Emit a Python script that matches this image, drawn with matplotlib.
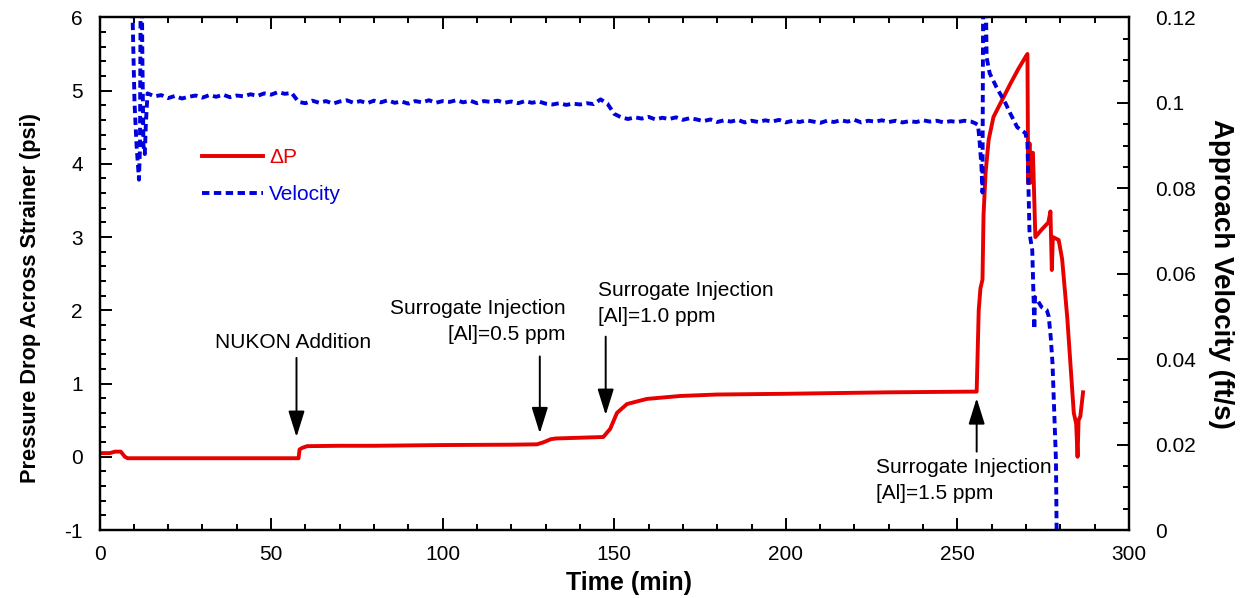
import matplotlib.pyplot as plt
from matplotlib.ticker import MultipleLocator

plt.rcParams['font.family'] = ['Liberation Sans', 'DejaVu Sans']
plt.rcParams['axes.unicode_minus'] = False

# Pressure drop across the strainer (psi)
t_dp = [0, 3, 4.5, 6.2, 7.4, 8.2, 20, 40, 58.0, 58.3, 59.0, 60.5, 70, 80, 100,
        120, 127.5, 129.5, 131.5, 133, 140, 146.8, 148.8, 150.8, 153.7, 159.5,
        169.2, 180, 200, 230, 255.6, 256.2, 256.7, 257.3, 257.6, 258.2, 259.1,
        260.5, 263, 265.5, 267.8, 270.1, 270.4, 270.6, 271.0, 271.2, 271.6,
        272.0, 272.7, 274.5, 276.5, 277.1, 277.5, 277.8, 279.5, 280.5, 282.0,
        283.9, 284.6, 285.0, 285.3, 285.8, 286.6]
dp = [0.05, 0.05, 0.07, 0.07, 0.0, -0.02, -0.02, -0.02, -0.02, 0.10, 0.12, 0.145,
      0.15, 0.15, 0.16, 0.165, 0.17, 0.20, 0.24, 0.25, 0.26, 0.27, 0.38, 0.60,
      0.72, 0.79, 0.83, 0.85, 0.86, 0.88, 0.89, 2.0, 2.3, 2.42, 3.3, 3.88, 4.33,
      4.64, 4.87, 5.1, 5.3, 5.48, 5.50, 3.74, 4.28, 3.74, 4.15, 4.15, 3.0, 3.1,
      3.2, 3.35, 2.55, 3.0, 2.96, 2.7, 1.9, 0.6, 0.45, 0.0, 0.5, 0.55, 0.88]

# Approach velocity (ft/s)
t_vel = [9.3, 9.7, 10.2, 10.8, 11.5, 11.8, 12.0, 12.3, 12.5, 12.8, 13.2, 13.5,
         14, 16, 18, 20, 22, 24, 26, 28, 30, 32, 34, 36, 38, 40, 42, 44, 46, 48,
         50, 52, 54, 56, 58, 60, 62, 64, 66, 68, 70, 72, 74, 76, 78, 80, 82, 84,
         86, 88, 90, 92, 94, 96, 98, 100, 102, 104, 106, 108, 110, 112, 114, 116,
         118, 120, 122, 124, 126, 128, 130, 132, 134, 136, 138, 140, 142, 144,
         146, 148, 150, 152, 154, 156, 158, 160, 162, 164, 166, 168, 170, 172,
         174, 176, 178, 180, 182, 184, 186, 188, 190, 192, 194, 196, 198, 200,
         202, 204, 206, 208, 210, 212, 214, 216, 218, 220, 222, 224, 226, 228,
         230, 232, 234, 236, 238, 240, 242, 244, 246, 248, 250, 252, 254,
         255.2, 256.0, 256.5, 257.0, 257.3, 257.5, 258.2, 258.5, 259.4, 261.4,
         264, 265.4, 267.4, 269.8, 270.4, 271.0, 271.8, 272.2, 272.4, 272.6,
         273.3, 274.5, 276, 276.6, 277.2, 277.7, 278.7, 278.9, 279.1]
vel = [0.13, 0.118, 0.100, 0.090, 0.082, 0.090, 0.13, 0.13, 0.110, 0.090, 0.088,
       0.095,
       0.1022, 0.1015, 0.1018, 0.1011, 0.1016, 0.1010, 0.1014, 0.1017, 0.1012,
       0.1018, 0.1014, 0.1019, 0.1013, 0.1017, 0.1015, 0.1020, 0.1016, 0.1022,
       0.1019, 0.1025, 0.1021, 0.1023, 0.1002, 0.0999, 0.1005, 0.1000, 0.1004,
       0.0998, 0.1003, 0.1006, 0.1000, 0.1004, 0.0999, 0.1005, 0.1001, 0.1006,
       0.1000, 0.1003, 0.0998, 0.1004, 0.1001, 0.1006, 0.1000, 0.1004, 0.1002,
       0.1006, 0.1001, 0.1005, 0.0999, 0.1004, 0.1002, 0.1005, 0.1000, 0.1003,
       0.0999, 0.1004, 0.1000, 0.1003, 0.0998, 0.0996, 0.0999, 0.0995, 0.0998,
       0.0996, 0.0999, 0.0997, 0.1008, 0.0998, 0.0974, 0.0966, 0.0962, 0.0966,
       0.0963, 0.0967, 0.0961, 0.0965, 0.0962, 0.0966, 0.0960, 0.0964, 0.0961,
       0.0957, 0.0961, 0.0955, 0.0959, 0.0956, 0.0960, 0.0954, 0.0958, 0.0955,
       0.0959, 0.0956, 0.0960, 0.0954, 0.0958, 0.0955, 0.0959, 0.0956, 0.0953,
       0.0958, 0.0955, 0.0959, 0.0956, 0.0960, 0.0954, 0.0958, 0.0956, 0.0959,
       0.0955, 0.0958, 0.0954, 0.0957, 0.0955, 0.0959, 0.0956, 0.0958, 0.0954,
       0.0957, 0.0955, 0.0958, 0.0956,
       0.0952, 0.0948, 0.0905, 0.0850, 0.0790, 0.13, 0.13, 0.1106, 0.1069,
       0.1036, 0.0999, 0.0975, 0.0943, 0.0929, 0.0905, 0.0695, 0.0655, 0.0538,
       0.0470, 0.0545, 0.0538, 0.0522, 0.0515, 0.0500, 0.0450, 0.0390, 0.0164,
       0.0, -0.005]

RED = '#e60000'
BLUE = '#0000dd'
FS = 15

fig = plt.figure(figsize=(12.47, 5.98), dpi=100)
ax = fig.add_axes([0.0798, 0.1137, 0.8256, 0.8573])
ax2 = ax.twinx()

l1, = ax.plot(t_dp, dp, color=RED, lw=2.8, label='\u0394P')
l2, = ax2.plot(t_vel, vel, color=BLUE, lw=2.8, linestyle=(0, (1.9, 1.15)),
               label='Velocity')

ax.set_xlim(0, 300)
ax.set_ylim(-1, 6)
ax2.set_ylim(0, 0.12)

ax.xaxis.set_major_locator(MultipleLocator(50))
ax.xaxis.set_minor_locator(MultipleLocator(10))
ax.yaxis.set_major_locator(MultipleLocator(1))
ax.yaxis.set_minor_locator(MultipleLocator(0.2))
ax2.set_yticks([0, 0.02, 0.04, 0.06, 0.08, 0.1, 0.12])
ax2.set_yticklabels(['0', '0.02', '0.04', '0.06', '0.08', '0.1', '0.12'])
ax2.yaxis.set_minor_locator(MultipleLocator(0.005))

ax.tick_params(which='both', direction='in', top=True, right=False,
               labelsize=FS, width=1.4)
ax.tick_params(axis='x', pad=11)
ax.tick_params(axis='y', pad=12)
ax.tick_params(which='major', length=8.5)
ax.tick_params(which='minor', length=4.5)
ax2.tick_params(which='both', direction='in', labelsize=FS, width=1.4, pad=19)
ax2.tick_params(which='major', length=8.5)
ax2.tick_params(which='minor', length=4.5)
for a in (ax, ax2):
    for s in a.spines.values():
        s.set_linewidth(1.6)

ax.set_xlabel('Time (min)', fontsize=18, fontweight='bold')
ax.xaxis.set_label_coords(0.514, -0.080)
ax.set_ylabel('Pressure Drop Across Strainer (psi)', fontsize=15.7,
              fontweight='bold')
ax.yaxis.set_label_coords(-0.057, 0.4525)
ax2.set_ylabel('Approach Velocity (ft/s)', fontsize=20, fontweight='bold',
               rotation=270, labelpad=27)

leg = ax2.legend(handles=[l1, l2], loc='upper left',
                 bbox_to_anchor=(0.089, 0.765), frameon=False, fontsize=FS,
                 handlelength=2.95, handletextpad=0.3, labelspacing=0.85,
                 borderpad=0, labelcolor='linecolor')

# event markers
arrow = dict(arrowstyle='-|>,head_length=1.6,head_width=0.5', color='black',
             lw=1.4, shrinkA=0, shrinkB=0, mutation_scale=10)
ax.annotate('', xy=(57.4, 0.27), xytext=(57.4, 1.35), arrowprops=arrow)
ax.annotate('', xy=(128.3, 0.32), xytext=(128.3, 1.37), arrowprops=arrow)
ax.annotate('', xy=(147.5, 0.57), xytext=(147.5, 1.64), arrowprops=arrow)
ax.annotate('', xy=(255.6, 0.80), xytext=(255.6, 0.07), arrowprops=arrow)

ax.text(56.4, 1.56, 'NUKON Addition', fontsize=FS, ha='center', va='center')
ax.text(135.9, 1.85, 'Surrogate Injection\n[Al]=0.5 ppm', fontsize=FS,
        ha='right', va='center', multialignment='right', linespacing=1.45)
ax.text(145.2, 2.09, 'Surrogate Injection\n[Al]=1.0 ppm', fontsize=FS,
        ha='left', va='center', linespacing=1.45)
ax2.text(226.2, 0.0116, 'Surrogate Injection\n[Al]=1.5 ppm', fontsize=FS,
         ha='left', va='center', linespacing=1.45, zorder=5,
         bbox=dict(facecolor='white', edgecolor='none', pad=0.5))

fig.savefig('out.png', dpi=100)
